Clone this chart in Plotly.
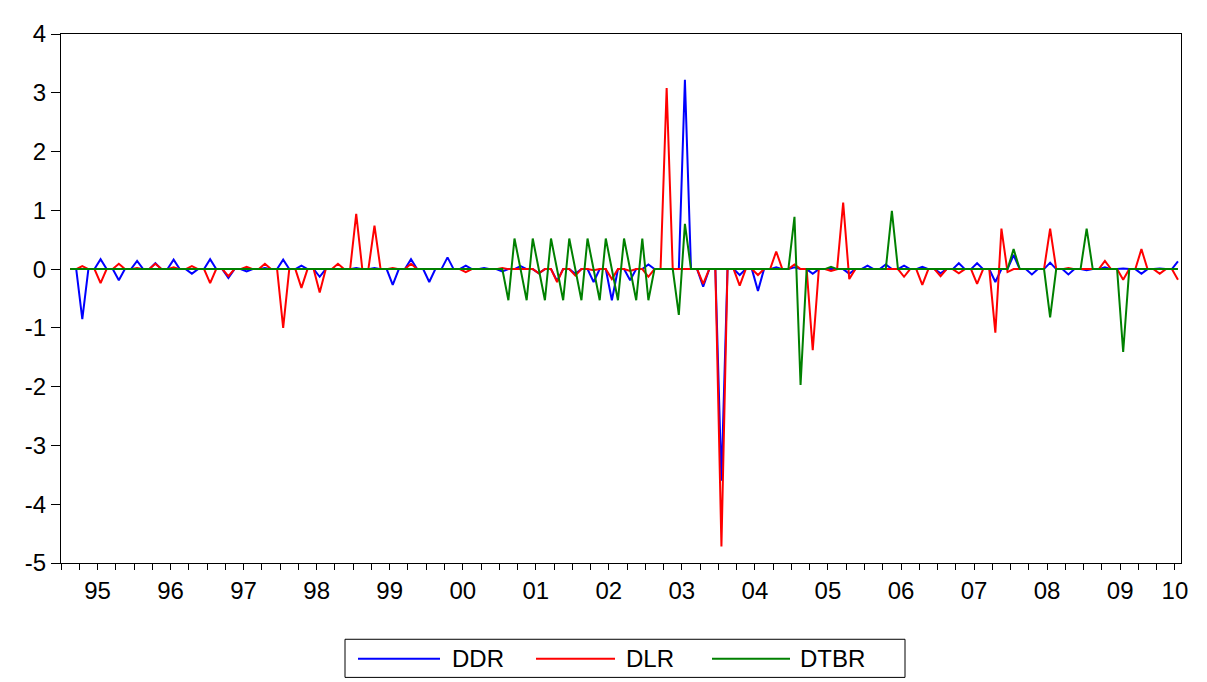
import pandas as pd
import plotly.graph_objects as go

# Monthly observations 1995M02 .. 2010M04
months = pd.period_range("1995-02", "2010-04", freq="M")

DDR = (
    [0, 0, -0.85, 0, 0, 0.17, 0, 0, -0.19, 0, 0]                      # 1995
    + [0.14, 0, 0, 0.10, 0, 0, 0.16, 0, 0, -0.08, 0, 0]               # 1996
    + [0.17, 0, 0, -0.15, 0, 0, -0.04, 0, 0, 0.02, 0, 0]              # 1997
    + [0.16, 0, 0, 0.06, 0, 0, -0.13, 0, 0, 0, 0, 0]                  # 1998
    + [0.02, 0, 0, 0.02, 0, 0, -0.27, 0, 0, 0.17, 0, 0]               # 1999
    + [-0.22, 0, 0, 0.20, 0, 0, 0.06, 0, 0, 0.02, 0, 0]               # 2000
    + [-0.04, 0, 0, 0.05, 0, 0, -0.07, 0, 0, -0.20, 0, 0]             # 2001
    + [-0.08, 0, 0, -0.22, 0, 0, -0.53, 0, 0, -0.19, 0, 0]            # 2002
    + [0.08, 0, 0, 0, 0, 0, 3.22, 0, 0, -0.30, 0, 0]                  # 2003
    + [-3.60, 0, 0, -0.10, 0, 0, -0.37, 0, 0, 0.03, 0, 0]             # 2004
    + [0.03, 0, 0, -0.08, 0, 0, 0, 0, 0, -0.08, 0, 0]                 # 2005
    + [0.06, 0, 0, 0.08, 0, 0, 0.06, 0, 0, 0.04, 0, 0]                # 2006
    + [-0.07, 0, 0, 0.10, 0, 0, 0.10, 0, 0, -0.22, 0, 0]              # 2007
    + [0.24, 0, 0, -0.09, 0, 0, 0.11, 0, 0, -0.09, 0, 0]              # 2008
    + [-0.02, 0, 0, 0.03, 0, 0, 0.01, 0, 0, -0.08, 0, 0]              # 2009
    + [0.01, 0, 0, 0.13]                                              # 2010
)

DLR = (
    [0, 0, 0.05, 0, 0, -0.24, 0, 0, 0.09, 0, 0]
    + [0.02, 0, 0, 0.09, 0, 0, 0.03, 0, 0, 0.05, 0, 0]
    + [-0.24, 0, 0, -0.12, 0, 0, 0.04, 0, 0, 0.09, 0, 0]
    + [-1.00, 0, 0, -0.32, 0, 0, -0.40, 0, 0, 0.09, 0, 0]
    + [0.94, 0, 0, 0.74, 0, 0, 0.02, 0, 0, 0.09, 0, 0]
    + [0, 0, 0, 0, 0, 0, -0.05, 0, 0, 0, 0, 0]
    + [0.02, 0, 0, 0, 0, 0, -0.07, 0, 0, -0.22, 0, 0]
    + [-0.11, 0, 0, -0.02, 0, 0, -0.17, 0, 0, -0.03, 0, 0]
    + [-0.13, 0, 0, 3.08, 0, 0, 0, 0, 0, -0.25, 0, 0]
    + [-4.72, 0, 0, -0.28, 0, 0, -0.10, 0, 0, 0.30, 0, 0]
    + [0.08, 0, 0, -1.38, 0, 0, -0.03, 0, 1.13, -0.17, 0, 0]
    + [0, 0, 0, 0, 0, 0, -0.13, 0, 0, -0.27, 0, 0]
    + [-0.12, 0, 0, -0.07, 0, 0, -0.25, 0, 0, -1.08, 0.69, -0.05]
    + [0, 0, 0, 0, 0, 0, 0.69, 0, 0, 0.02, 0, 0]
    + [0, 0, 0, 0.14, 0, 0, -0.18, 0, 0, 0.34, 0, 0]
    + [-0.08, 0, 0, -0.18]
)

DTBR = (
    [0] * 11
    + [0] * 12 * 5
    + [0, -0.53, 0.52, 0, -0.53, 0.52, 0, -0.53, 0.52, 0, -0.53, 0.52]   # 2001
    + [0, -0.53, 0.52, 0, -0.53, 0.52, 0, -0.53, 0.52, 0, -0.53, 0.52]   # 2002
    + [-0.53, 0, 0, 0, 0, -0.78, 0.77, 0, 0, 0, 0, 0]                    # 2003
    + [0] * 12                                                           # 2004
    + [0.89, -1.97, 0, 0, 0, 0, 0.04, 0, 0, 0, 0, 0]                     # 2005
    + [0, 0, 0, 0, 0.99, 0, 0, 0, 0, 0, 0, 0]                            # 2006
    + [0] * 12                                                           # 2007
    + [0.34, 0, 0, 0, 0, 0, -0.82, 0, 0, 0, 0, 0]                        # 2008
    + [0.69, 0, 0, 0, 0, 0, -1.41, 0, 0, 0, 0, 0]                        # 2009
    + [0, 0, 0, 0]                                                       # 2010
)

YEAR_LABELS = ["95", "96", "97", "98", "99", "00", "01", "02", "03", "04",
               "05", "06", "07", "08", "09", "10"]
Y_TICKS = [4, 3, 2, 1, 0, -1, -2, -3, -4, -5]
Y_LABELS = ["4", "3", "2", "1", "0", "-1", "-2", "-3", "-4", "-5"]
SERIES = [("DDR", DDR, "#0000FF"), ("DLR", DLR, "#FF0000"), ("DTBR", DTBR, "#008000")]

# month slot index (0 = 1995M01), observation drawn at slot centre
xs = [(p.year - 1995) * 12 + (p.month - 1) + 0.5 for p in months]
n_slots = 15 * 12 + 4

FONT = "Liberation Sans, Arial, sans-serif"
PAGE_OFF = 8  # page body margin

fig = go.Figure()
for name, vals, col in SERIES:
    fig.add_trace(go.Scatter(x=xs, y=vals, mode="lines", name=name,
                             line=dict(color=col, width=2), showlegend=False,
                             hoverinfo="x+y+name"))
# empty trace to keep the label axis alive
fig.add_trace(go.Scatter(x=[], y=[], xaxis="x2", showlegend=False))

label_pos = [12 * k + 6 for k in range(15)] + [183.0]

L, T, PW, PH = 61 - PAGE_OFF, 22 - PAGE_OFF, 1120, 541
fig.update_layout(
    width=1207, height=682,
    margin=dict(l=L, r=1207 - L - PW, t=T, b=682 - T - PH),
    paper_bgcolor="white", plot_bgcolor="white",
    font=dict(family=FONT, size=24, color="black"),
    xaxis=dict(range=[0, n_slots], tickvals=list(range(0, n_slots, 12)),
               ticktext=[""] * 16, ticks="outside", ticklen=12, tickwidth=1,
               tickcolor="black", showline=True, linecolor="black", linewidth=1,
               mirror=True, showgrid=False, zeroline=False,
               minor=dict(tickvals=list(range(0, n_slots + 1, 3)), ticks="outside",
                          ticklen=6, tickcolor="black", tickwidth=1, showgrid=False)),
    xaxis2=dict(overlaying="x", anchor="y", side="bottom", range=[0, n_slots],
                tickvals=label_pos, ticktext=YEAR_LABELS, ticks="outside",
                ticklen=6, tickcolor="rgba(0,0,0,0)", showline=False,
                showgrid=False, zeroline=False, tickfont=dict(size=24)),
    yaxis=dict(range=[-5, 4], tickvals=Y_TICKS, ticktext=Y_LABELS,
               ticks="outside", ticklen=9,
               tickcolor="black", showline=True, linecolor="black", linewidth=1,
               mirror=True, showgrid=False, zeroline=False, tickfont=dict(size=24)),
)

# legend drawn as a boxed strip under the plot (page coordinates -> paper)
def px(x):
    return (x - 61) / PW
def py(y):
    return (563 - y) / PH

fig.add_shape(type="rect", xref="paper", yref="paper",
              x0=px(345), x1=px(905), y0=py(641), y1=py(680),
              line=dict(color="black", width=1), fillcolor="white")
legend_items = [(358, 440, 450), (536, 615, 624), (712, 790, 798)]
for (name, vals, col), (l0, l1, tx) in zip(SERIES, legend_items):
    fig.add_shape(type="line", xref="paper", yref="paper",
                  x0=px(l0), x1=px(l1), y0=py(661), y1=py(661),
                  line=dict(color=col, width=2))
    fig.add_annotation(xref="paper", yref="paper", x=px(tx), y=py(661),
                       text=name, showarrow=False, xanchor="left", yanchor="middle",
                       font=dict(size=24, color="black", family=FONT))

fig.write_html("out.html")
